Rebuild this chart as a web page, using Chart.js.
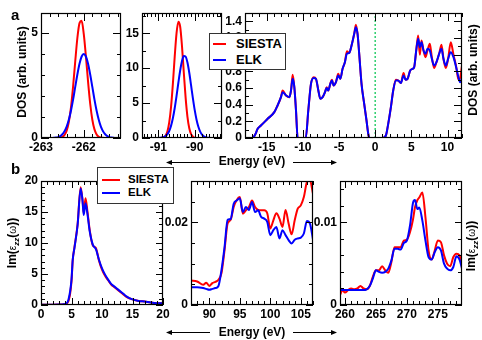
<!DOCTYPE html>
<html><head><meta charset="utf-8">
<script src="https://cdn.jsdelivr.net/npm/chart.js@4/dist/chart.umd.min.js"></script>
<style>
body{margin:0;background:#fff;width:482px;height:340px;position:relative;overflow:hidden;font-family:"Liberation Sans",Arial,sans-serif;}
canvas{position:absolute;}
.t{position:absolute;white-space:nowrap;color:#000;font-weight:bold;}
.rot{transform:translate(-50%,-50%) rotate(-90deg);}
.legend{position:absolute;background:#fff;border:1px solid #333;z-index:5;box-sizing:border-box;}
.ls{position:absolute;height:2px;}
.lt{position:absolute;font-weight:bold;white-space:nowrap;}
.sym{font-weight:normal;font-size:10px;}
</style></head>
<body>
<canvas id="a1" width="126" height="152" style="left:0;top:0;width:126px;height:152px"></canvas>
<canvas id="a2" width="110" height="152" style="left:122px;top:0;width:110px;height:152px"></canvas>
<canvas id="a3" width="260" height="152" style="left:222px;top:0;width:260px;height:152px"></canvas>
<canvas id="b1" width="175" height="153" style="left:0;top:168px;width:175px;height:153px"></canvas>
<canvas id="b2" width="165" height="153" style="left:160px;top:168px;width:165px;height:153px"></canvas>
<canvas id="b3" width="172" height="153" style="left:310px;top:168px;width:172px;height:153px"></canvas>

<div class="t" style="left:11px;top:7px;font-size:15px;line-height:15px">a</div>
<div class="t" style="left:11px;top:161px;font-size:15px;line-height:15px">b</div>

<div class="t rot" style="left:22px;top:72px;font-size:12px">DOS (arb. units)</div>
<div class="t rot" style="left:473px;top:70px;font-size:12px">DOS (arb. units)</div>
<div class="t rot" style="left:13px;top:243px;font-size:12px">Im(<span class="sym">ε</span><sub style="font-size:8px;font-style:italic">zz</sub>(<span class="sym">ω</span>))</div>
<div class="t rot" style="left:472px;top:246px;font-size:12px">Im(<span class="sym">ε</span><sub style="font-size:8px;font-style:italic">zz</sub>(<span class="sym">ω</span>))</div>

<div class="t" style="left:252px;top:161px;font-size:12px;transform:translate(-50%,-50%)">Energy (eV)</div>
<div class="t" style="left:252px;top:332px;font-size:12px;transform:translate(-50%,-50%)">Energy (eV)</div>

<svg width="482" height="340" style="position:absolute;left:0;top:0;z-index:4;pointer-events:none">
 <g stroke="#000" stroke-width="1" fill="#000">
  <line x1="170" y1="162.5" x2="210" y2="162.5"/><path d="M166,162.5 l6,-2.5 l0,5 z" stroke="none"/>
  <line x1="293" y1="162.5" x2="333" y2="162.5"/><path d="M337,162.5 l-6,-2.5 l0,5 z" stroke="none"/>
  <line x1="170" y1="332.5" x2="210" y2="332.5"/><path d="M166,332.5 l6,-2.5 l0,5 z" stroke="none"/>
  <line x1="293" y1="332.5" x2="333" y2="332.5"/><path d="M337,332.5 l-6,-2.5 l0,5 z" stroke="none"/>
 </g>
</svg>

<div class="legend" style="left:209px;top:33px;width:77px;height:37px;">
  <div class="ls" style="left:3px;top:9px;width:13px;background:#ff0000"></div>
  <div class="lt" style="left:26px;top:2px;font-size:13px;line-height:15px">SIESTA</div>
  <div class="ls" style="left:3px;top:25px;width:13px;background:#0000ff"></div>
  <div class="lt" style="left:26px;top:18px;font-size:13px;line-height:15px">ELK</div>
</div>
<div class="legend" style="left:97px;top:167px;width:77px;height:37px;">
  <div class="ls" style="left:4px;top:11px;width:18px;background:#ff0000"></div>
  <div class="lt" style="left:30px;top:4px;font-size:11.5px;line-height:14px">SIESTA</div>
  <div class="ls" style="left:4px;top:24px;width:18px;background:#0000ff"></div>
  <div class="lt" style="left:30px;top:17px;font-size:11.5px;line-height:14px">ELK</div>
</div>

<script>
// ---------- Panel a1: core level near -262 eV ----------
const a1Energy = [-263.0,-262.80,-262.75,-262.70,-262.65,-262.60,-262.55,-262.50,-262.45,-262.40,-262.35,-262.30,-262.25,-262.20,-262.15,-262.10,-262.05,-262.00,-261.95,-261.90,-261.85,-261.80,-261.75,-261.70,-261.65,-261.60,-261.55,-261.50,-261.45,-261.40,-261.35,-261.30,-261.25,-261.20,-261.13];
const a1Siesta = [0,0,0,0,0,0.01,0.02,0.05,0.14,0.35,0.76,1.45,2.45,3.64,4.76,5.47,5.58,4.94,3.88,2.68,1.63,0.87,0.41,0.17,0.06,0.02,0.01,0,0,0,0,0,0,0,0];
const a1Elk    = [0,0,0,0.01,0.02,0.04,0.09,0.18,0.32,0.54,0.87,1.30,1.83,2.43,3.02,3.53,3.88,4.0,3.88,3.53,3.02,2.43,1.83,1.30,0.87,0.54,0.32,0.18,0.09,0.04,0.02,0.01,0,0,0];
const a1XTicks = [-263,-262];
const a1YTicks = [0,5];

// ---------- Panel a2: core level near -90 eV ----------
const a2Energy = [-91.45,-91.05,-91.00,-90.95,-90.90,-90.85,-90.80,-90.75,-90.70,-90.65,-90.60,-90.55,-90.50,-90.45,-90.40,-90.35,-90.30,-90.25,-90.20,-90.15,-90.10,-90.05,-90.00,-89.95,-89.90,-89.85,-89.80,-89.75,-89.70,-89.65,-89.60,-89.55,-89.50,-89.25];
const a2Siesta = [0,0,0,0.01,0.03,0.12,0.36,0.97,2.26,4.53,7.83,11.68,15.01,16.65,15.93,13.14,9.35,5.74,3.04,1.39,0.55,0.19,0.05,0.01,0,0,0,0,0,0,0,0,0,0];
const a2Elk    = [0,0,0.01,0.02,0.06,0.13,0.28,0.55,1.03,1.77,2.86,4.30,6.04,7.91,9.67,11.03,11.74,11.65,10.80,9.34,7.53,5.67,3.98,2.61,1.60,0.91,0.49,0.24,0.11,0.05,0.02,0.01,0,0];
const a2XTicks = [-91,-90];
const a2YTicks = [0,5,10,15];

// ---------- Panel a3: valence / conduction DOS ----------
const a3Energy = [-18,-17,-16.6,-16.25,-15.8,-14.87,-13.95,-13.5,-13.03,-12.8,-12.33,-11.87,-11.64,-11.41,-11.18,-10.95,-10.72,-9.6,-9.25,-8.88,-8.5,-8.19,-7.86,-7.59,-7.27,-6.94,-6.72,-6.49,-6.21,-5.98,-5.75,-5.43,-5.11,-4.83,-4.51,-4.19,-3.91,-3.59,-3.27,-2.9,-2.67,-2.44,-2.21,-1.89,-1.52,-1.2,-0.92,-0.69,1.0,1.48,1.8,2.17,2.49,2.86,3.18,3.55,3.92,4.2,4.47,4.84,5.16,5.39,5.67,5.94,6.17,6.4,6.68,6.95,7.23,7.55,7.83,8.15,8.47,8.84,9.16,9.44,9.76,10.08,10.45,10.82,11.19,11.51,11.74,12.0];
const a3Elk    = [0,0,0.04,0.11,0.15,0.23,0.31,0.39,0.49,0.55,0.51,0.49,0.57,0.71,0.61,0.33,0,0,0.33,0.65,0.72,0.71,0.57,0.47,0.49,0.55,0.60,0.57,0.65,0.69,0.63,0.67,0.75,0.71,0.83,0.91,1.01,1.02,1.11,1.25,1.33,1.25,1.01,0.65,0.41,0.21,0.03,0,0,0.03,0.17,0.37,0.57,0.69,0.69,0.66,0.75,0.70,0.71,0.81,0.83,0.85,1.05,1.19,1.09,1.15,1.05,1.01,1.07,1.05,0.95,0.87,0.91,1.01,1.07,0.95,0.87,0.95,1.03,0.97,0.85,0.73,0.67,0.72];
const a3Siesta = [0,0,0.04,0.11,0.15,0.23,0.31,0.39,0.49,0.57,0.51,0.49,0.57,0.76,0.61,0.33,0,0,0.33,0.65,0.73,0.71,0.57,0.47,0.49,0.55,0.61,0.57,0.65,0.70,0.63,0.67,0.77,0.71,0.83,0.91,1.04,1.02,1.11,1.25,1.36,1.25,1.01,0.65,0.41,0.21,0.03,0,0,0.03,0.17,0.37,0.57,0.70,0.69,0.66,0.78,0.70,0.71,0.81,0.83,0.85,1.05,1.23,1.00,1.17,1.05,0.97,1.05,1.13,0.97,0.84,0.91,1.01,1.12,0.95,0.84,0.95,1.15,1.00,0.86,0.70,0.72,0.87];
const a3XTicks = [-15,-10,-5,0,5,10];
const a3YTicks = [0,0.2,0.4,0.6,0.8,1,1.2,1.4];
const fermiLevel = 0;

// ---------- Panel b1: Im eps_zz, 0-20 eV ----------
const b1Energy = [0,1,2,3,3.5,4,4.5,5,5.2,5.5,6,6.5,6.8,7,7.3,7.6,8,8.5,9,9.5,10,10.5,11,11.5,12,12.5,13,13.5,14,15,16,17,18,19,20];
const b1Elk    = [0.05,0.05,0.06,0.08,0.1,0.2,0.85,4.1,7.3,9.3,12.9,18.8,16.9,14.5,16.4,14.8,11.8,9.7,9.0,7.3,5.9,4.9,4.1,3.4,3.0,2.6,2.2,1.8,1.4,0.9,0.65,0.55,0.4,0.3,0.28];
const b1Siesta = [0.05,0.05,0.06,0.08,0.1,0.15,0.6,3.8,7.2,9.4,13.0,19.0,17.0,14.8,17.2,15.2,12.0,9.6,9.2,7.2,5.7,4.7,4.0,3.3,2.9,2.5,2.1,1.7,1.3,0.9,0.65,0.55,0.4,0.3,0.28];
const b1XTicks = [0,5,10,15,20];
const b1YTicks = [0,5,10,15,20];

// ---------- Panel b2: Im eps_zz, 87-107 eV ----------
const b2Energy = [87,88,89,89.5,90,90.5,91,91.5,92,92.5,93,93.5,94,94.5,95,95.5,96,96.5,97,97.5,98,98.5,99,99.5,100,100.5,101,101.5,102,102.5,103,103.5,104,104.5,105,105.5,106,106.5,107];
const b2Elk    = [0.0043,0.0043,0.0041,0.0039,0.0037,0.0039,0.0041,0.0046,0.0085,0.014,0.0206,0.0208,0.0245,0.0253,0.0258,0.0225,0.0237,0.023,0.0249,0.0225,0.0229,0.0213,0.0209,0.0201,0.0169,0.0181,0.0189,0.0161,0.0181,0.0169,0.0157,0.0149,0.0158,0.0161,0.0163,0.0173,0.0203,0.0197,0.0158];
const b2Siesta = [0.0059,0.0057,0.0049,0.0054,0.0046,0.0053,0.0056,0.0061,0.0077,0.0133,0.0197,0.0206,0.0237,0.0254,0.0261,0.0221,0.0229,0.0237,0.0253,0.0237,0.023,0.0229,0.0229,0.0222,0.0185,0.0205,0.0222,0.0209,0.0189,0.023,0.0197,0.0171,0.0205,0.0233,0.0241,0.0261,0.0297,0.0302,0.0269];
const b2XTicks = [90,95,100,105];
const b2YTicks = [0,0.02];

// ---------- Panel b3: Im eps_zz, 259-279 eV ----------
const b3Energy = [259.2,259.6,260,260.5,261,261.5,262,262.5,263,263.5,264,264.5,265,265.5,266,266.5,267,267.5,268,268.5,269,269.5,270,270.5,271,271.3,271.7,272,272.5,273,273.5,274,274.5,275,275.5,276,276.5,277,277.5,278,278.5,278.9];
const b3Elk    = [0.0018,0.0018,0.0018,0.0018,0.0018,0.0018,0.0018,0.0018,0.0018,0.0019,0.0023,0.0032,0.0042,0.004,0.0039,0.004,0.0044,0.0054,0.0068,0.0068,0.0067,0.0075,0.0078,0.0096,0.0124,0.0127,0.0116,0.0118,0.0102,0.0078,0.0058,0.0055,0.0064,0.007,0.0066,0.005,0.0044,0.0042,0.0046,0.0059,0.0055,0.0044];
const b3Siesta = [0.0012,0.0018,0.0015,0.0018,0.002,0.0019,0.002,0.0023,0.002,0.0019,0.0023,0.0034,0.0042,0.0042,0.0047,0.0042,0.0039,0.0052,0.007,0.007,0.007,0.0078,0.0079,0.0088,0.0104,0.0118,0.0127,0.013,0.0136,0.0106,0.0066,0.0055,0.0066,0.0078,0.0076,0.006,0.005,0.0047,0.0058,0.0062,0.006,0.0046];
const b3XTicks = [260,265,270,275];
const b3YTicks = [0,0.01];

// ---------- drawing ----------
const FONT = {family:'"Liberation Sans", Arial, sans-serif', size:12, weight:'bold'};
Chart.defaults.font = FONT;
Chart.defaults.color = '#000';

const frameTicks = {
  id:'frameTicks',
  afterDatasetsDraw(chart, args, o){
    const {ctx, chartArea:a, scales:{x, y}} = chart;
    ctx.save();
    ctx.strokeStyle = '#000';
    ctx.lineWidth = 1;
    ctx.beginPath();
    const vx = (v,len)=>{const p=Math.round(x.getPixelForValue(v))+0.5; if(p<a.left||p>a.right+1)return; ctx.moveTo(p,a.bottom); ctx.lineTo(p,a.bottom-len); ctx.moveTo(p,a.top); ctx.lineTo(p,a.top+len);};
    const vy = (v,len)=>{const p=Math.round(y.getPixelForValue(v))+0.5; if(p<a.top||p>a.bottom+1)return; ctx.moveTo(a.left,p); ctx.lineTo(a.left+len,p); ctx.moveTo(a.right,p); ctx.lineTo(a.right-len,p);};
    const minors = (min,max,step,fn)=>{for(let k=Math.ceil(min/step-1e-6); k*step<=max+1e-9; k++) fn(k*step,o.minorLen);};
    minors(x.min,x.max,o.xMinor,vx);
    minors(y.min,y.max,o.yMinor,vy);
    o.xMajor.forEach(v=>vx(v,o.majorLen));
    o.yMajor.forEach(v=>vy(v,o.majorLen));
    ctx.stroke();
    ctx.lineWidth = 1.2;
    ctx.strokeRect(a.left+0.5, a.top+0.5, a.right-a.left-1, a.bottom-a.top-1);
    ctx.restore();
  }
};

const pts = (xs, ys) => xs.map((v,i)=>({x:v, y:ys[i]}));
const series = (xs, siesta, elk) => [
  {label:'SIESTA', data:pts(xs, siesta), borderColor:'#ff0000', order:2},
  {label:'ELK', data:pts(xs, elk), borderColor:'#0000ff', order:1}
];
const fmt = v => String(+(+v).toFixed(6));

function panel(id, c){
  new Chart(document.getElementById(id), {
    type:'line',
    data:{datasets:c.datasets},
    options:{
      responsive:false, animation:false, events:[],
      layout:{padding:{top:c.T, right:c.R, left:0, bottom:0}},
      elements:{line:{borderWidth:2, cubicInterpolationMode:'monotone', fill:false}, point:{radius:0}},
      plugins:{legend:{display:false}, tooltip:{enabled:false},
        frameTicks:{xMajor:c.xTicks, yMajor:c.yTicks, xMinor:c.xMinor, yMinor:c.yMinor, majorLen:c.majorLen, minorLen:c.minorLen}},
      scales:{
        x:{type:'linear', min:c.x[0], max:c.x[1],
           grid:{display:false, drawTicks:false}, border:{display:false},
           afterBuildTicks:s=>{s.ticks = c.xTicks.map(v=>({value:v}));},
           afterFit:s=>{s.height = c.B;},
           ticks:{padding:c.xPad, maxRotation:0, autoSkip:false, callback:fmt}},
        y:{type:'linear', min:c.y[0], max:c.y[1],
           grid:{display:false, drawTicks:false}, border:{display:false},
           afterBuildTicks:s=>{s.ticks = c.yTicks.map(v=>({value:v}));},
           afterFit:s=>{s.width = c.L;},
           ticks:{padding:3, autoSkip:false, callback:fmt}}
      }
    },
    plugins:[frameTicks]
  });
}

panel('a1', {x:[-263,-261.13], y:[0,5.95], xTicks:a1XTicks, yTicks:a1YTicks, xMinor:0.2, yMinor:1,
  L:41, T:13, R:5, B:14, xPad:2, majorLen:8, minorLen:4, datasets:series(a1Energy, a1Siesta, a1Elk)});
panel('a2', {x:[-91.45,-89.25], y:[0,17.9], xTicks:a2XTicks, yTicks:a2YTicks, xMinor:0.1, yMinor:2.5,
  L:20, T:13, R:10, B:14, xPad:2, majorLen:8, minorLen:4, datasets:series(a2Energy, a2Siesta, a2Elk)});
const a3Sets = series(a3Energy, a3Siesta, a3Elk);
a3Sets.push({label:'EF', data:[{x:fermiLevel,y:0},{x:fermiLevel,y:1.5}], borderColor:'#2fcf6f', borderWidth:1.5, borderDash:[2,2], cubicInterpolationMode:'default', tension:0, order:3});
panel('a3', {x:[-18,12], y:[0,1.5], xTicks:a3XTicks, yTicks:a3YTicks, xMinor:1, yMinor:0.1,
  L:23, T:13, R:20, B:14, xPad:2, majorLen:8, minorLen:4, datasets:a3Sets});
panel('b1', {x:[0,20], y:[0,20], xTicks:b1XTicks, yTicks:b1YTicks, xMinor:1, yMinor:1,
  L:41, T:13, R:12, B:16, xPad:2, majorLen:7, minorLen:4, datasets:series(b1Energy, b1Siesta, b1Elk)});
panel('b2', {x:[87,107], y:[0,0.03], xTicks:b2XTicks, yTicks:b2YTicks, xMinor:1, yMinor:0.005,
  L:31, T:13, R:12, B:16, xPad:2, majorLen:7, minorLen:4, datasets:series(b2Energy, b2Siesta, b2Elk)});
panel('b3', {x:[259.2,278.9], y:[0,0.015], xTicks:b3XTicks, yTicks:b3YTicks, xMinor:1, yMinor:0.002,
  L:30, T:13, R:20, B:16, xPad:2, majorLen:7, minorLen:4, datasets:series(b3Energy, b3Siesta, b3Elk)});
</script>
</body></html>
